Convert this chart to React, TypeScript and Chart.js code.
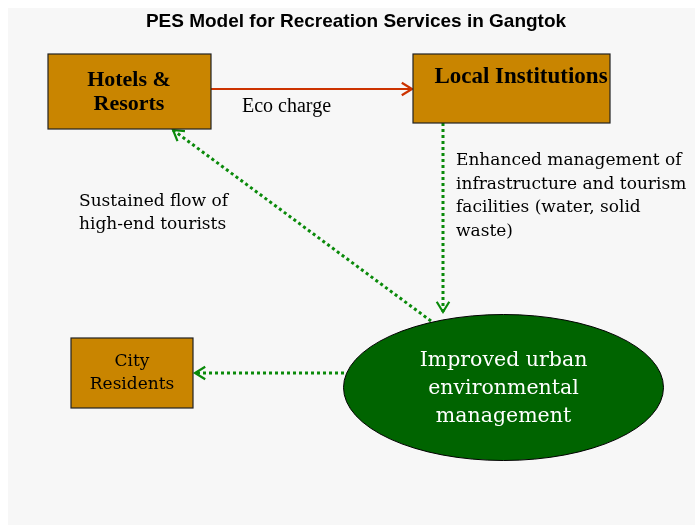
import React, { useEffect, useRef } from "react";
import { Chart, registerables } from "chart.js";

Chart.register(...registerables);

// Diagram content (positions in page units on the diagram's own x/y scales)
const TITLE = "PES Model for Recreation Services in Gangtok";

const boxLabels = [["Hotels &", "Resorts"], ["Local Institutions"], ["City", "Residents"]];
const boxX0 = [48, 413, 71];
const boxX1 = [211, 610, 193];
const boxY0 = [54, 54, 338];
const boxY1 = [129, 123, 408];
const boxTextX = [129, 521, 132];
const boxTextY = [[80, 104], [77], [362, 385]];
const boxFontSize = [22, 23, 17];
const boxBold = [true, true, false];

const ellipseLabel = ["Improved urban", "environmental", "management"];
const ellipseCenter = [503.5, 387.5];
const ellipseRadii = [160, 73];
const ellipseTextY = [361, 389, 417];

const linkFrom = [[211, 89], [443, 123], [431, 321], [344, 373]];
const linkTo = [[412, 89], [443, 312], [173, 130], [195, 373]];
const linkDotted = [false, true, true, true];

const noteLines = [["Eco charge"], ["Enhanced management of", "infrastructure and tourism", "facilities (water, solid", "waste)"], ["Sustained flow of", "high-end tourists"]];
const noteX = [242, 456, 79];
const noteY = [[107], [161, 185, 208, 232], [202, 225]];

const BG = "#f7f7f7";
const BOX_FILL = "#c98500";
const GREEN = "#0a8a0a";
const RED = "#cc3300";
const DARK_GREEN = "#006400";
const SERIF = "'DejaVu Serif', serif";
const TIMES = "'Liberation Serif', serif";

const diagramPlugin = {
  id: "diagram",
  afterDraw(chart: any) {
    const ctx = chart.ctx as CanvasRenderingContext2D;
    const xs = chart.scales.x;
    const ys = chart.scales.y;
    const px = (v: number) => xs.getPixelForValue(v);
    const py = (v: number) => ys.getPixelForValue(v);
    ctx.save();

    // title
    ctx.fillStyle = "#000";
    ctx.font = "bold 19px 'Liberation Sans', Arial, sans-serif";
    ctx.textAlign = "center";
    ctx.textBaseline = "middle";
    ctx.fillText(TITLE, px(356), py(22));

    // links
    linkFrom.forEach((f, i) => {
      const t = linkTo[i];
      const x0 = px(f[0]), y0 = py(f[1]), x1 = px(t[0]), y1 = py(t[1]);
      ctx.strokeStyle = linkDotted[i] ? GREEN : RED;
      ctx.lineWidth = linkDotted[i] ? 3 : 2;
      ctx.setLineDash(linkDotted[i] ? [3, 3] : []);
      ctx.beginPath();
      ctx.moveTo(x0, y0);
      ctx.lineTo(x1, y1);
      ctx.stroke();
      ctx.setLineDash([]);
      const a = Math.atan2(y1 - y0, x1 - x0);
      const L = 12, w = 0.55;
      ctx.lineWidth = 2.2;
      ctx.beginPath();
      ctx.moveTo(x1 - L * Math.cos(a - w), y1 - L * Math.sin(a - w));
      ctx.lineTo(x1, y1);
      ctx.lineTo(x1 - L * Math.cos(a + w), y1 - L * Math.sin(a + w));
      ctx.stroke();
    });

    // boxes
    boxLabels.forEach((lines, i) => {
      const x0 = px(boxX0[i]), x1 = px(boxX1[i]);
      const y0 = py(boxY0[i]), y1 = py(boxY1[i]);
      ctx.fillStyle = BOX_FILL;
      ctx.fillRect(x0, y0, x1 - x0, y1 - y0);
      ctx.strokeStyle = "#222";
      ctx.lineWidth = 1.2;
      ctx.strokeRect(x0, y0, x1 - x0, y1 - y0);
      ctx.fillStyle = "#000";
      ctx.font = boxBold[i] ? `bold ${boxFontSize[i]}px ${TIMES}` : `${boxFontSize[i]}px ${SERIF}`;
      ctx.textAlign = "center";
      lines.forEach((ln, j) => ctx.fillText(ln, px(boxTextX[i]), py(boxTextY[i][j])));
    });

    // ellipse
    const cx = px(ellipseCenter[0]), cy = py(ellipseCenter[1]);
    const rx = Math.abs(px(ellipseCenter[0] + ellipseRadii[0]) - cx);
    const ry = Math.abs(py(ellipseCenter[1] + ellipseRadii[1]) - cy);
    ctx.beginPath();
    ctx.ellipse(cx, cy, rx, ry, 0, 0, Math.PI * 2);
    ctx.fillStyle = DARK_GREEN;
    ctx.fill();
    ctx.strokeStyle = "#000";
    ctx.lineWidth = 1;
    ctx.stroke();
    ctx.fillStyle = "#fff";
    ctx.font = `20.5px ${SERIF}`;
    ctx.textAlign = "center";
    ellipseLabel.forEach((ln, j) => ctx.fillText(ln, cx, py(ellipseTextY[j])));

    // notes
    ctx.fillStyle = "#000";
    ctx.textAlign = "left";
    noteLines.forEach((lines, i) => {
      ctx.font = i === 0 ? `20px ${TIMES}` : `17px ${SERIF}`;
      lines.forEach((ln, j) => ctx.fillText(ln, px(noteX[i]), py(noteY[i][j])));
    });
    ctx.restore();
  },
};

export default function App() {
  const ref = useRef<HTMLCanvasElement | null>(null);
  useEffect(() => {
    if (!ref.current) return;
    const chart = new Chart(ref.current, {
      type: "scatter",
      data: { datasets: [{ data: [], pointRadius: 0 }] },
      options: {
        animation: false,
        responsive: true,
        maintainAspectRatio: false,
        layout: { padding: 0 },
        plugins: { legend: { display: false }, tooltip: { enabled: false }, title: { display: false } },
        scales: {
          x: { type: "linear", min: 8, max: 695, display: false },
          y: { type: "linear", min: 8, max: 525, reverse: true, display: false },
        },
      },
      plugins: [diagramPlugin],
    });
    return () => chart.destroy();
  }, []);
  return (
    <div style={{ position: "fixed", left: 8, top: 8, width: 687, height: 517, background: BG }}>
      <canvas ref={ref} />
    </div>
  );
}
